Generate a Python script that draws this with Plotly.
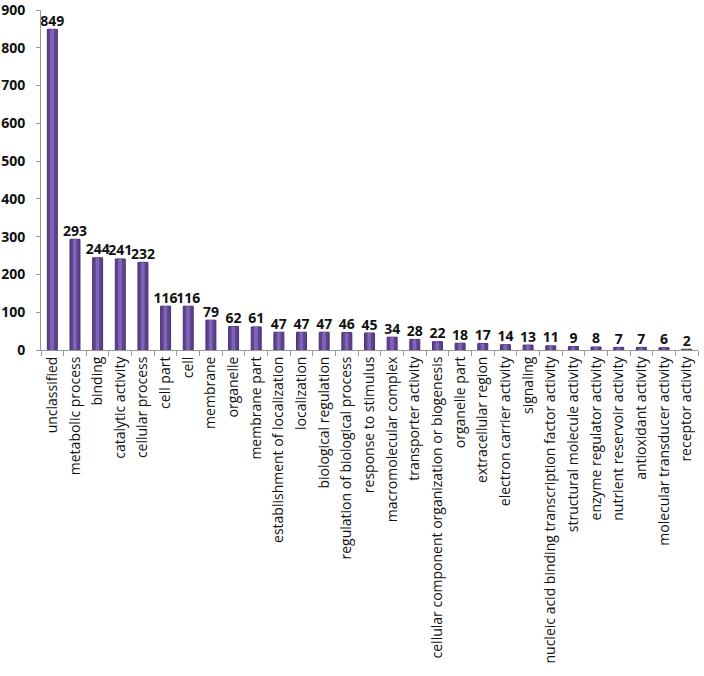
import plotly.graph_objects as go

categories = ["unclassified", "metabolic process", "binding", "catalytic activity",
              "cellular process", "cell part", "cell", "membrane", "organelle",
              "membrane part", "establishment of localization", "localization",
              "biological regulation", "regulation of biological process",
              "response to stimulus", "macromolecular complex", "transporter activity",
              "cellular component organization or biogenesis", "organelle part",
              "extracellular region", "electron carrier activity", "signaling",
              "nucleic acid binding transcription factor activity",
              "structural molecule activity", "enzyme regulator activity",
              "nutrient reservoir activity", "antioxidant activity",
              "molecular transducer activity", "receptor activity"]
values = [849, 293, 244, 241, 232, 116, 116, 79, 62, 61, 47, 47, 47, 46, 45, 34, 28,
          22, 18, 17, 14, 13, 11, 9, 8, 7, 7, 6, 2]
y_ticks = [0, 100, 200, 300, 400, 500, 600, 700, 800, 900]

font_family = "Open Sans, Lato, sans-serif"

fig = go.Figure()
fig.add_trace(go.Bar(
    x=categories, y=values,
    marker=dict(color="#5e4290", line=dict(color="#46316c", width=1)),
    width=0.44,
    hoverinfo="x+y",
))
# highlight strip for cylinder look
fig.add_trace(go.Bar(
    x=categories, y=values,
    marker=dict(color="rgba(140,112,196,0.75)", line=dict(width=0)),
    width=0.16, offset=-0.09,
    hoverinfo="skip",
))
# value labels
fig.add_trace(go.Scatter(
    x=categories, y=values, mode="text",
    text=[str(v) for v in values], textposition="top center",
    textfont=dict(family=font_family, size=14, color="#111111", weight="bold"),
    cliponaxis=False, hoverinfo="skip",
))

fig.update_layout(
    width=704, height=676,
    margin=dict(l=41, r=6, t=10, b=326),
    paper_bgcolor="white", plot_bgcolor="white",
    showlegend=False, barmode="overlay",
    font=dict(family=font_family, color="#111111"),
)
fig.update_xaxes(
    type="category", tickangle=-90,
    tickfont=dict(family=font_family, size=14, color="#111111"),
    showline=True, linecolor="#9a9a9a", linewidth=1,
    ticks="outside", tickson="boundaries", ticklen=5, tickcolor="#9a9a9a",
    showgrid=False, range=[-0.5, len(categories) - 0.5],
    automargin=False, ticklabeloverflow="allow",
)
fig.update_yaxes(
    range=[0, 900], tickvals=y_ticks,
    tickfont=dict(family=font_family, size=14, color="#111111", weight="bold"),
    showline=True, linecolor="#9a9a9a", linewidth=1,
    ticks="outside", ticklen=4, tickcolor="#9a9a9a", ticklabelstandoff=8,
    showgrid=False, zeroline=False, automargin=False, ticklabeloverflow="allow",
)

fig.write_html("out.html", config={"displayModeBar": False},
               post_script="document.body.style.margin='0';")
